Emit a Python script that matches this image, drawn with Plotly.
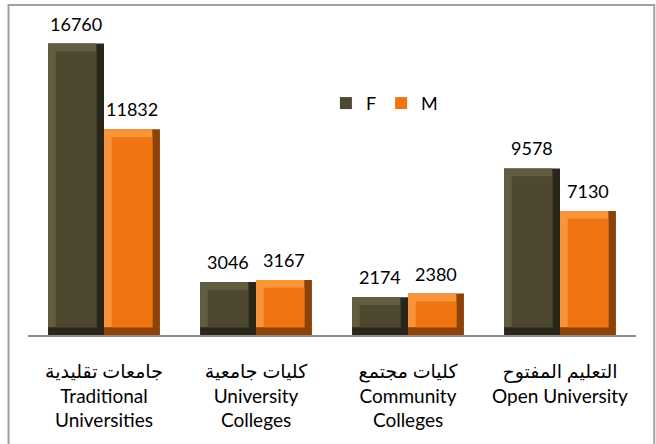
import plotly.graph_objects as go

categories = [
    "جامعات تقليدية<br>Traditional<br>Universities",
    "كليات جامعية<br>University<br>Colleges",
    "كليات مجتمع<br>Community<br>Colleges",
    "التعليم المفتوح<br>Open University",
]
female = [16760, 3046, 2174, 9578]
male = [11832, 3167, 2380, 7130]

series = [
    ("F", female, -1, "#29261a", "#625c40", "#4d482f"),
    ("M", male, 0, "#8f4206", "#f8953a", "#f07511"),
]

bar_w = 0.368
bev_x = 0.05
bev_y = 450
xs = list(range(len(categories)))

fig = go.Figure()
for name, vals, side, dark, light, face in series:
    off = side * bar_w
    # shadow (right / bottom edge)
    fig.add_trace(go.Bar(x=xs, y=vals, offset=off, width=bar_w,
                         marker=dict(color=dark, line=dict(width=0)),
                         showlegend=False, hoverinfo="skip"))
    # highlight (top / left edge)
    fig.add_trace(go.Bar(x=xs, y=[v - bev_y for v in vals], base=bev_y,
                         offset=off, width=bar_w - bev_x,
                         marker=dict(color=light, line=dict(width=0)),
                         showlegend=False, hoverinfo="skip"))
    # face
    fig.add_trace(go.Bar(x=xs, y=[v - 2 * bev_y for v in vals], base=bev_y,
                         offset=off + bev_x, width=bar_w - 2 * bev_x,
                         marker=dict(color=face, line=dict(width=0)),
                         name=name, showlegend=True))
    for i, v in enumerate(vals):
        fig.add_annotation(x=i + off + bar_w / 2, y=v, text=str(v),
                           showarrow=False, yanchor="bottom", yshift=7,
                           font=dict(size=18, color="#000000"))

fig.add_shape(type="rect", xref="paper", yref="paper",
              x0=-0.032, x1=1.03, y0=-0.4, y1=1.054,
              line=dict(color="#a0a0a0", width=2))

fig.update_layout(
    barmode="overlay",
    width=656, height=444,
    margin=dict(l=28, r=20, t=22, b=109),
    paper_bgcolor="white", plot_bgcolor="white",
    font=dict(family="Lato, DejaVu Sans", size=18, color="#000000"),
    legend=dict(orientation="h", x=0.49, y=0.74, xanchor="left", yanchor="middle",
                font=dict(size=18), itemwidth=30, bgcolor="rgba(0,0,0,0)"),
)
fig.update_xaxes(tickvals=xs, ticktext=categories, range=[-0.5, 3.5],
                 showline=True, linecolor="#8c8c8c", linewidth=2,
                 ticks="", showgrid=False, zeroline=False, ticklabelstandoff=18,
                 tickfont=dict(size=19), automargin=False)
fig.update_yaxes(range=[0, 18000], visible=False, automargin=False)

fig.write_html("out.html", config={"displayModeBar": False},
               post_script="document.body.style.margin='0px';")
